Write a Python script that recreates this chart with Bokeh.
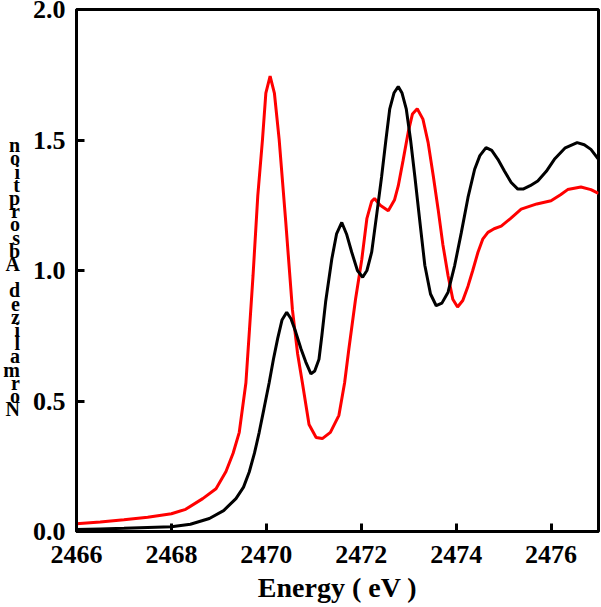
from bokeh.plotting import figure
from bokeh.models import FixedTicker, Range1d, CustomJSTickFormatter
from bokeh.embed import file_html
from bokeh.resources import INLINE

red_e = [2466.0, 2466.5, 2467.0, 2467.5, 2468.0, 2468.3, 2468.66, 2468.94, 2469.15, 2469.30,
         2469.43, 2469.57, 2469.64, 2469.72, 2469.82, 2469.92, 2469.99, 2470.08, 2470.17, 2470.27,
         2470.41, 2470.55, 2470.66, 2470.76, 2470.90, 2471.05, 2471.18, 2471.35, 2471.53, 2471.65,
         2471.74, 2471.88, 2472.01, 2472.12, 2472.22, 2472.28, 2472.40, 2472.57, 2472.70, 2472.78,
         2472.88, 2472.99, 2473.08, 2473.18, 2473.30, 2473.41, 2473.52, 2473.62, 2473.72, 2473.83,
         2473.93, 2474.03, 2474.14, 2474.25, 2474.35, 2474.46, 2474.56, 2474.67, 2474.80, 2474.95,
         2475.15, 2475.37, 2475.70, 2476.00, 2476.20, 2476.35, 2476.63, 2476.84, 2477.00]
red_v = [0.030, 0.036, 0.045, 0.055, 0.068, 0.085, 0.126, 0.164, 0.23, 0.30,
         0.38, 0.57, 0.76, 0.98, 1.286, 1.503, 1.68, 1.745, 1.68, 1.503,
         1.185, 0.85, 0.68, 0.57, 0.41, 0.36, 0.356, 0.38, 0.445, 0.57,
         0.70, 0.89, 1.04, 1.20, 1.265, 1.276, 1.25, 1.229, 1.27, 1.324,
         1.42, 1.53, 1.60, 1.62, 1.58, 1.49, 1.36, 1.235, 1.10, 0.98,
         0.89, 0.86, 0.885, 0.94, 1.00, 1.07, 1.12, 1.146, 1.16, 1.17,
         1.20, 1.235, 1.255, 1.267, 1.29, 1.31, 1.32, 1.31, 1.295]

black_e = [2466.0, 2466.5, 2467.0, 2467.5, 2468.0, 2468.4, 2468.8, 2469.1, 2469.36, 2469.52,
           2469.64, 2469.75, 2469.85, 2469.95, 2470.06, 2470.15, 2470.24, 2470.33, 2470.43, 2470.52,
           2470.62, 2470.73, 2470.83, 2470.94, 2471.02, 2471.11, 2471.17, 2471.25, 2471.38, 2471.48,
           2471.59, 2471.69, 2471.80, 2471.92, 2472.03, 2472.12, 2472.22, 2472.33, 2472.43, 2472.52,
           2472.60, 2472.69, 2472.78, 2472.86, 2472.95, 2473.04, 2473.13, 2473.24, 2473.34, 2473.46,
           2473.58, 2473.70, 2473.83, 2473.97, 2474.11, 2474.25, 2474.39, 2474.50, 2474.63, 2474.75,
           2474.88, 2475.02, 2475.16, 2475.30, 2475.41, 2475.56, 2475.72, 2475.90, 2476.07, 2476.30,
           2476.55, 2476.70, 2476.84, 2477.00]
black_v = [0.008, 0.010, 0.012, 0.015, 0.018, 0.028, 0.05, 0.08, 0.126, 0.17,
           0.228, 0.30, 0.38, 0.47, 0.57, 0.66, 0.74, 0.81, 0.84, 0.815,
           0.764, 0.70, 0.65, 0.604, 0.615, 0.66, 0.75, 0.88, 1.044, 1.14,
           1.184, 1.14, 1.07, 1.00, 0.974, 1.00, 1.07, 1.22, 1.36, 1.50,
           1.618, 1.68, 1.705, 1.68, 1.618, 1.50, 1.36, 1.18, 1.02, 0.91,
           0.865, 0.875, 0.917, 1.02, 1.146, 1.28, 1.388, 1.44, 1.471, 1.46,
           1.426, 1.38, 1.337, 1.312, 1.312, 1.325, 1.343, 1.38, 1.426, 1.47,
           1.49, 1.482, 1.464, 1.426]

x_ticks = [2466, 2468, 2470, 2472, 2474, 2476]
y_ticks = [0.0, 0.5, 1.0, 1.5, 2.0]
x_title = "Energy ( eV )"
y_title_letters = list("noitprosbA dezilamroN")

FONT = "Liberation Serif"

p = figure(width=600, height=605, output_backend="svg", toolbar_location=None,
           x_range=Range1d(2466, 2477), y_range=Range1d(0, 2.0),
           min_border_left=74, min_border_right=2, min_border_top=9, min_border_bottom=72)
p.background_fill_color = "white"
p.border_fill_color = "white"
p.grid.visible = False
p.outline_line_color = "black"
p.outline_line_width = 3

p.line(red_e, red_v, line_color="#ff0000", line_width=3)
p.line(black_e, black_v, line_color="black", line_width=3)

for ax in (p.xaxis[0], p.yaxis[0]):
    ax.axis_line_width = 3
    ax.axis_line_color = "black"
    ax.major_tick_in = 8
    ax.major_tick_out = 0
    ax.major_tick_line_width = 3
    ax.minor_tick_line_color = None
    ax.major_label_text_font = FONT
    ax.major_label_text_font_style = "bold"
    ax.major_label_text_font_size = "26px"
    ax.major_label_text_color = "black"

p.xaxis[0].ticker = FixedTicker(ticks=x_ticks)
p.yaxis[0].ticker = FixedTicker(ticks=y_ticks)
p.yaxis[0].formatter = CustomJSTickFormatter(code="return tick.toFixed(1);")
p.xaxis[0].major_label_standoff = 14
p.yaxis[0].major_label_standoff = 11

p.xaxis[0].axis_label = x_title
p.xaxis[0].axis_label_text_font = FONT
p.xaxis[0].axis_label_text_font_style = "bold"
p.xaxis[0].axis_label_text_font_size = "28px"
p.xaxis[0].axis_label_text_color = "black"
p.xaxis[0].axis_label_standoff = 6

# stacked y-axis title letters (one letter per line, upright)
p.yaxis[0].axis_label = "\n" + "\n".join(y_title_letters)
p.yaxis[0].axis_label_orientation = "horizontal"
p.yaxis[0].axis_label_text_font = FONT
p.yaxis[0].axis_label_text_font_style = "bold"
p.yaxis[0].axis_label_text_font_size = "20px"
p.yaxis[0].axis_label_text_line_height = 0.6
p.yaxis[0].axis_label_text_color = "black"
p.yaxis[0].axis_label_standoff = 10

open("out.html", "w").write(file_html(p, INLINE))
